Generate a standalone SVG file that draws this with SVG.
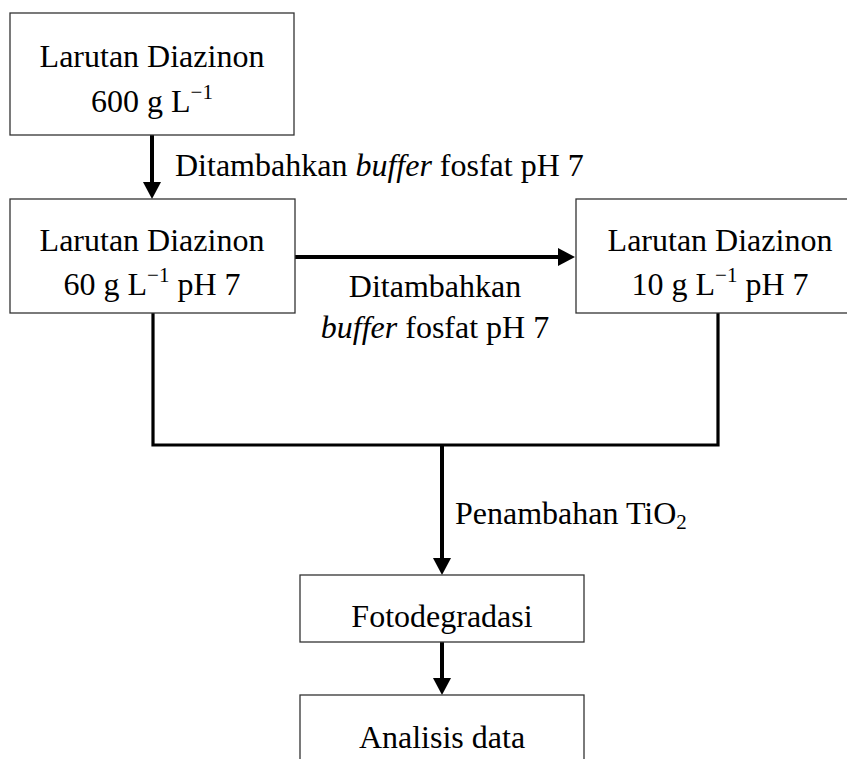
<svg xmlns="http://www.w3.org/2000/svg" width="847" height="759" viewBox="0 0 847 759">
<defs>
<style>
.box{fill:#fff;stroke:#333;stroke-width:1.3}
.t{font-family:"Liberation Serif","Times New Roman",serif;font-size:32px;fill:#000}
.c{text-anchor:middle}
.conn{stroke:#000;stroke-width:4;fill:none}
.loop{stroke:#000;stroke-width:3.2;fill:none}
.sup{font-size:21px}
</style>
<marker id="ah" markerUnits="userSpaceOnUse" markerWidth="17" markerHeight="18" refX="1" refY="9" orient="auto">
<path d="M0,0 L17,9 L0,18 z" fill="#000"/>
</marker>
</defs>
<rect width="847" height="759" fill="#fff"/>
<g id="connectors">
<line class="conn" x1="152" y1="135" x2="152" y2="183" marker-end="url(#ah)"/>
<line class="conn" x1="295" y1="257" x2="559" y2="257" marker-end="url(#ah)"/>
<polyline class="loop" points="153,313 153,445 718,445 718,313"/>
<line class="conn" x1="442" y1="445" x2="442" y2="559" marker-end="url(#ah)"/>
<line class="conn" x1="442" y1="642" x2="442" y2="679" marker-end="url(#ah)"/>
<text class="t" x="175" y="176">Ditambahkan <tspan font-style="italic">buffer</tspan> fosfat pH 7</text>
<text class="t c" x="435" y="297">Ditambahkan</text>
<text class="t c" x="435" y="338"><tspan font-style="italic">buffer</tspan> fosfat pH 7</text>
<text class="t" x="455" y="524">Penambahan TiO<tspan class="sup" dy="5">2</tspan></text>
</g>
<g id="node1">
<rect class="box" x="10" y="13" width="284" height="122"/>
<text class="t c" x="152" y="67">Larutan Diazinon</text>
<text class="t c" x="152" y="112">600 g L<tspan class="sup" dy="-13">−1</tspan></text>
</g>
<g id="node2">
<rect class="box" x="10" y="199" width="285" height="114"/>
<text class="t c" x="152" y="251">Larutan Diazinon</text>
<text class="t c" x="152" y="295">60 g L<tspan class="sup" dy="-13">−1</tspan><tspan dy="13"> pH 7</tspan></text>
</g>
<g id="node3">
<rect class="box" x="576" y="199" width="288" height="114"/>
<text class="t c" x="720" y="251">Larutan Diazinon</text>
<text class="t c" x="720" y="295">10 g L<tspan class="sup" dy="-13">−1</tspan><tspan dy="13"> pH 7</tspan></text>
</g>
<g id="node4">
<rect class="box" x="300" y="575" width="284" height="67"/>
<text class="t c" x="442" y="627">Fotodegradasi</text>
</g>
<g id="node5">
<rect class="box" x="300" y="695" width="284" height="80"/>
<text class="t c" x="442" y="748">Analisis data</text>
</g>
</svg>
